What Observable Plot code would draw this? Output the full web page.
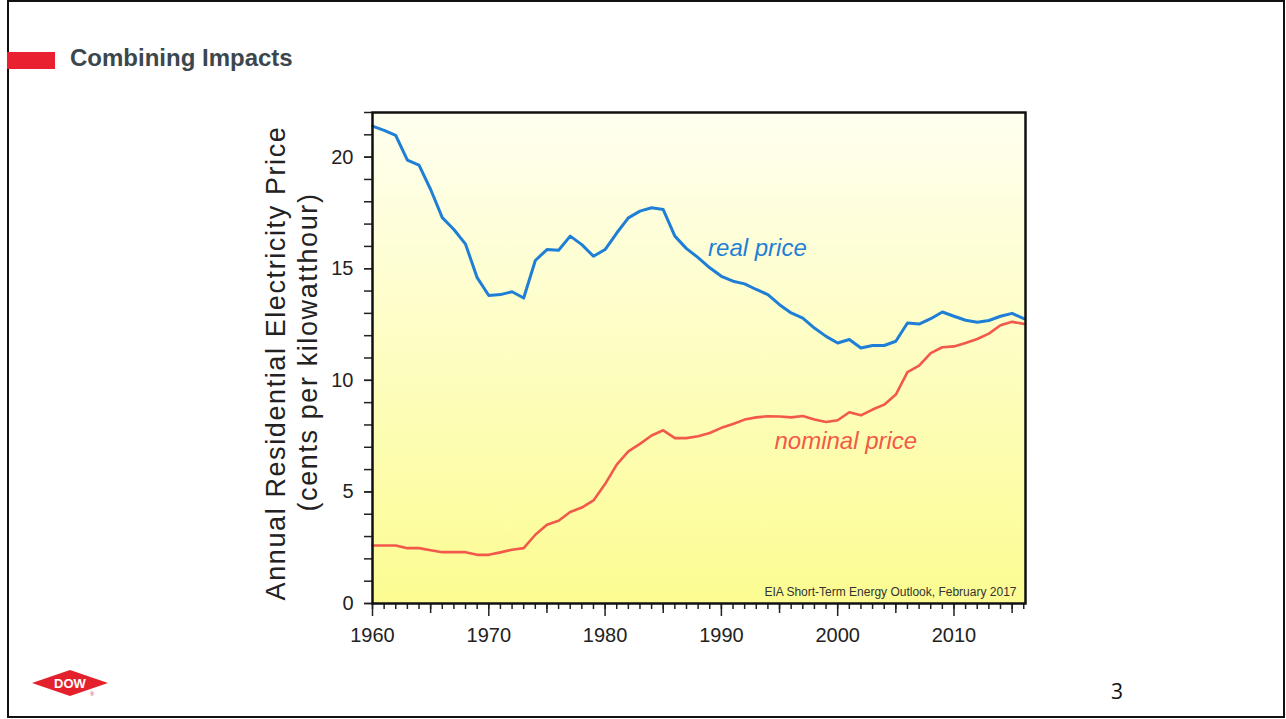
<!DOCTYPE html>
<html>
<head>
<meta charset="utf-8">
<script src="https://cdn.jsdelivr.net/npm/d3@7"></script>
<script src="https://cdn.jsdelivr.net/npm/@observablehq/plot@0.6"></script>
<style>
  html, body { margin: 0; padding: 0; background: #fff; }
  body { width: 1286px; height: 719px; position: relative; overflow: hidden; font-family: "Liberation Sans", Arial, sans-serif; }
  #slide { position: absolute; left: 7px; top: 0px; width: 1274px; height: 714px; border: 2px solid #111; box-sizing: content-box; }
  #redbar { position: absolute; left: 7px; top: 52px; width: 48px; height: 17px; background: #e8202f; }
  #title { position: absolute; left: 70px; top: 44px; font-size: 24px; font-weight: bold; color: #3b474d; }
  #chart { position: absolute; left: 0; top: 100px; }
  #logo { position: absolute; left: 30px; top: 668px; }
  #page { position: absolute; left: 1111px; top: 677px; font-size: 21px; color: #111; font-family: "Open Sans", sans-serif; }
</style>
</head>
<body>
<div id="slide"></div>
<div id="redbar"></div>
<div id="title">Combining Impacts</div>
<div id="chart"></div>
<svg id="logo" width="82" height="32" viewBox="0 0 82 32">
  <polygon points="2,15 40,2 78,15 40,28" fill="#e3202c"/>
  <text x="40" y="20" text-anchor="middle" font-family="Liberation Sans, Arial" font-weight="bold" font-size="13" fill="#fff">DOW</text>
  <text x="62" y="28" text-anchor="middle" font-family="Liberation Sans, Arial" font-size="5" fill="#e3202c">®</text>
</svg>
<div id="page">3</div>
<script>
const years = d3.range(1960, 2017);
const realPrice = [
  21.39, 21.2, 20.97, 19.87, 19.64, 18.55, 17.29, 16.76, 16.1, 14.6,
  13.8, 13.84, 13.97, 13.69, 15.37, 15.86, 15.83, 16.46, 16.08, 15.56,
  15.86, 16.6, 17.28, 17.58, 17.73, 17.65, 16.46, 15.9, 15.5, 15.04,
  14.66, 14.44, 14.32, 14.07, 13.84, 13.39, 13.02, 12.79, 12.34, 11.97,
  11.67, 11.83, 11.45, 11.56, 11.56, 11.75, 12.57, 12.52, 12.76, 13.06,
  12.87, 12.69, 12.6, 12.68, 12.87, 13.0, 12.76
];
const nominalPrice = [
  2.6, 2.6, 2.6, 2.48, 2.48, 2.39, 2.3, 2.3, 2.3, 2.18,
  2.18, 2.29, 2.41, 2.48, 3.08, 3.53, 3.71, 4.1, 4.3, 4.62,
  5.35, 6.22, 6.82, 7.15, 7.53, 7.76, 7.41, 7.41, 7.49, 7.64,
  7.87, 8.04, 8.24, 8.34, 8.39, 8.38, 8.34, 8.4, 8.24, 8.13,
  8.21, 8.57, 8.43, 8.69, 8.91, 9.36, 10.37, 10.66, 11.22, 11.48,
  11.52, 11.67, 11.85, 12.09, 12.47, 12.62, 12.53
];
const xTickLabels = [1960, 1970, 1980, 1990, 2000, 2010];
const xMidTicks = [1965, 1975, 1985, 1995, 2005, 2015];
const xMinorTicks = d3.range(1960, 2017);
const yTickLabels = [0, 5, 10, 15, 20];
const yMinorTicks = d3.range(0, 23);
const seriesLabels = [
  {label: "real price", year: 1993.1, value: 15.9, color: "#1f7fd6"},
  {label: "nominal price", year: 2000.7, value: 7.25, color: "#f2594a"}
];
const yTitle1 = "Annual Residential Electricity Price";
const yTitle2 = "(cents per kilowatthour)";
const sourceNote = "EIA Short-Term Energy Outlook, February 2017";

const realData = years.map((y, i) => ({year: y, value: realPrice[i]}));
const nominalData = years.map((y, i) => ({year: y, value: nominalPrice[i]}));

const plot = Plot.plot({
  width: 1286,
  height: 560,
  marginLeft: 372,
  marginRight: 261,
  marginTop: 12,
  marginBottom: 57,
  style: {fontFamily: "Liberation Sans, Arial, sans-serif", background: "transparent", color: "#222"},
  x: {domain: [1960, 2016.15], label: null},
  y: {domain: [0, 22], label: null},
  marks: [
    Plot.frame({fill: "url(#bgGrad)", stroke: null}),
    Plot.axisX(xMinorTicks, {tickSize: 6, tickFormat: () => "", stroke: "#222", strokeWidth: 1.5, label: null}),
    Plot.axisX(xMidTicks, {tickSize: 10, tickFormat: () => "", stroke: "#222", strokeWidth: 1.5, label: null}),
    Plot.axisX(xTickLabels, {tickSize: 13, tickPadding: 11, tickFormat: d => String(d), fontSize: 20, stroke: "#222", strokeWidth: 1.5, fill: "#222", label: null}),
    Plot.axisY(yMinorTicks, {tickSize: 8, tickFormat: () => "", stroke: "#222", strokeWidth: 1.5, label: null}),
    Plot.axisY(yTickLabels, {tickSize: 8, tickPadding: 11, tickFormat: d => String(d), fontSize: 20, stroke: "#222", strokeWidth: 1.5, fill: "#222", label: null}),
    Plot.lineY(nominalData, {x: "year", y: "value", stroke: "#f2594a", strokeWidth: 2.6}),
    Plot.lineY(realData, {x: "year", y: "value", stroke: "#1f7fd6", strokeWidth: 3}),
    Plot.text(seriesLabels, {x: "year", y: "value", text: "label", fill: "color", fontSize: 24, fontStyle: "italic"}),
    Plot.text([sourceNote], {frameAnchor: "bottom-right", dx: -9, dy: -8, fontSize: 12, fill: "#333"}),
    Plot.text([yTitle1], {frameAnchor: "left", textAnchor: "middle", dx: -96, dy: 5, rotate: -90, fontSize: 27, fill: "#222"}),
    Plot.text([yTitle2], {frameAnchor: "left", textAnchor: "middle", dx: -64, dy: -6, rotate: -90, fontSize: 27, fill: "#222"}),
    Plot.frame({stroke: "#111", strokeWidth: 2.5})
  ]
});

const svg = d3.select(plot);
const defs = svg.insert("defs", ":first-child");
const grad = defs.append("linearGradient").attr("id", "bgGrad").attr("x1", 0).attr("y1", 0).attr("x2", 0).attr("y2", 1);
grad.append("stop").attr("offset", "0%").attr("stop-color", "#fffff0");
grad.append("stop").attr("offset", "100%").attr("stop-color", "#fcfc92");
svg.selectAll("text")
  .filter(function() { return this.textContent === yTitle1 || this.textContent === yTitle2; })
  .attr("letter-spacing", 1.6);
document.getElementById("chart").appendChild(plot);
</script>
</body>
</html>
